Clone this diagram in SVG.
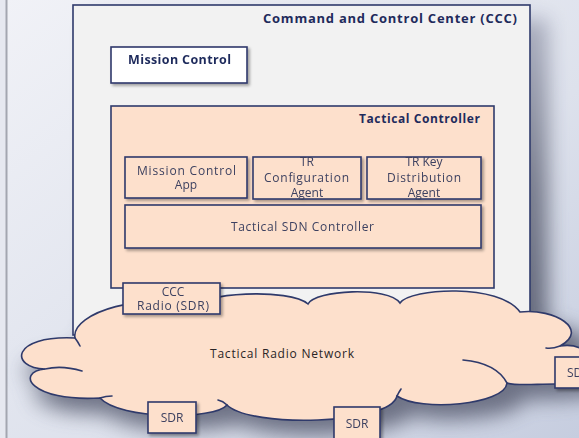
<svg xmlns="http://www.w3.org/2000/svg" width="579" height="438" viewBox="0 0 579 438">
  <defs>
    <linearGradient id="bg" x1="0" y1="0" x2="1" y2="1">
      <stop offset="0" stop-color="#f1f2f7"/>
      <stop offset="0.6" stop-color="#dde1ec"/>
      <stop offset="1" stop-color="#c6cddf"/>
    </linearGradient>
    <linearGradient id="shadeFill" x1="0" y1="0" x2="0" y2="1">
      <stop offset="0" stop-color="#a6aabb"/>
      <stop offset="0.5" stop-color="#6f7384"/>
      <stop offset="1" stop-color="#555a6c"/>
    </linearGradient>
    <filter id="bigBlur" x="-20%" y="-20%" width="140%" height="140%">
      <feGaussianBlur stdDeviation="10"/>
    </filter>
    <filter id="drop" x="-10%" y="-10%" width="130%" height="140%">
      <feGaussianBlur in="SourceAlpha" stdDeviation="1.4"/>
      <feOffset dx="2" dy="2" result="b"/>
      <feComponentTransfer><feFuncA type="linear" slope="0.35"/></feComponentTransfer>
      <feMerge><feMergeNode/><feMergeNode in="SourceGraphic"/></feMerge>
    </filter>
    <path id="cloudShape" d="M75,338 C70,312 150,290 190,309 C200,292 290,288 308,304 C315,290 388,286 400,303 C410,288 500,283 520,312 C555,308 590,330 560,346 C598,340 605,384 555,384 C535,384 515,386 507,383 C505,405 420,412 397,396 C390,425 250,428 227,405 C215,420 120,420 100,398 C30,402 15,372 45,369 C10,368 10,335 75,338 Z"/>
  </defs>
  <style>
    .box{stroke:#2f3a6b;stroke-width:1.6}
    .peach{fill:#fde0cc}
    .t{font-family:"Open Sans","Liberation Sans",sans-serif;font-size:12px;fill:#3d4160}
    .tb{font-family:"Open Sans","Liberation Sans",sans-serif;font-weight:bold;fill:#1f2b5c}
    .edge{fill:none;stroke:#2f3a6b;stroke-width:1.6;stroke-linecap:round}
  </style>

  <!-- page background -->
  <rect x="0" y="0" width="579" height="438" fill="url(#bg)"/>
  <rect x="0" y="0" width="6" height="438" fill="#e6e8f0"/>
  <line x1="6.5" y1="0" x2="6.5" y2="438" stroke="#a3a6b0" stroke-width="2"/>

  <!-- soft cast shadow behind the centre and the network -->
  <g id="shadow" filter="url(#bigBlur)" opacity="0.9">
    <g transform="translate(18,14)">
      <rect x="73" y="5" width="457" height="330" fill="url(#shadeFill)"/>
      <use href="#cloudShape" fill="#585c6e"/>
    </g>
    <use href="#cloudShape" fill="#6a6e80" transform="translate(2,16)" opacity="0.7"/>
  </g>

  <g id="ccc">
    <rect class="box" x="73" y="5" width="457" height="330" fill="#f2f2f2"/>
    <text class="tb" x="263" y="23" font-size="13" textLength="254">Command and Control Center (CCC)</text>
  </g>

  <g id="mission-control" filter="url(#drop)">
    <rect class="box" x="111" y="47" width="136" height="36" fill="#ffffff"/>
    <text class="tb" x="128" y="64" font-size="12.5" textLength="103">Mission Control</text>
  </g>

  <g id="tactical-controller">
    <rect class="box peach" x="111" y="106" width="383" height="182"/>
    <text class="tb" x="359" y="123" font-size="12" textLength="121">Tactical  Controller</text>
  </g>

  <g id="mission-control-app" filter="url(#drop)">
    <rect class="box peach" x="125" y="157" width="122" height="41"/>
    <text class="t" x="137" y="175" textLength="99">Mission Control</text>
    <text class="t" x="186" y="189" text-anchor="middle">App</text>
  </g>

  <g id="tr-config-agent" filter="url(#drop)">
    <rect class="box peach" x="253" y="157" width="108" height="42"/>
    <text class="t" x="307" y="166" text-anchor="middle">TR</text>
    <text class="t" x="264" y="182" textLength="85">Configuration</text>
    <text class="t" x="307" y="197" text-anchor="middle">Agent</text>
  </g>

  <g id="tr-key-agent" filter="url(#drop)">
    <rect class="box peach" x="367" y="157" width="114" height="42"/>
    <text class="t" x="424" y="166" text-anchor="middle">TR Key</text>
    <text class="t" x="387" y="182" textLength="74">Distribution</text>
    <text class="t" x="424" y="197" text-anchor="middle">Agent</text>
  </g>

  <g id="sdn-controller" filter="url(#drop)">
    <rect class="box peach" x="125" y="205" width="356" height="43"/>
    <text class="t" x="231" y="231" textLength="143">Tactical SDN Controller</text>
  </g>

  <g id="tactical-radio-network">
    <use href="#cloudShape" class="peach" stroke="#2f3a6b" stroke-width="1.6"/>
    <path class="edge" d="M560,346 Q552,349 546,348"/>
    <path class="edge" d="M507,383 C500,370 485,362 463,360"/>
    <path class="edge" d="M397,396 Q399,392 401,389"/>
    <path class="edge" d="M227,405 Q223,401 218,400"/>
    <path class="edge" d="M100,398 Q106,396 112,396"/>
    <path class="edge" d="M45,369 Q62,365 82,371"/>
    <path class="edge" d="M75,338 Q78,342 80,346"/>
    <text class="t" x="210" y="358" textLength="144" style="fill:#2a2526">Tactical Radio Network</text>
  </g>

  <g id="ccc-radio" filter="url(#drop)">
    <rect class="box peach" x="123" y="283" width="97" height="31"/>
    <text class="t" x="173" y="296" text-anchor="middle">CCC</text>
    <text class="t" x="137" y="310" textLength="72">Radio (SDR)</text>
  </g>

  <g id="sdr-1" filter="url(#drop)">
    <rect class="box peach" x="148" y="402" width="48" height="31"/>
    <text class="t" x="172" y="422" text-anchor="middle">SDR</text>
  </g>

  <g id="sdr-2" filter="url(#drop)">
    <rect class="box peach" x="334" y="407" width="46" height="36"/>
    <text class="t" x="357" y="428" text-anchor="middle">SDR</text>
  </g>

  <g id="sdr-3" filter="url(#drop)">
    <rect class="box peach" x="555" y="357" width="40" height="31"/>
    <text class="t" x="567" y="377">SDR</text>
  </g>
</svg>
